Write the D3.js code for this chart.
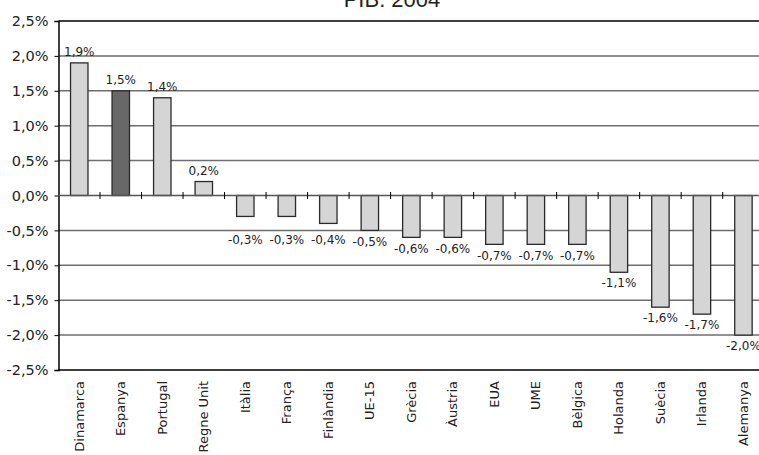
<!DOCTYPE html>
<html>
<head>
<meta charset="utf-8">
<script src="https://cdn.jsdelivr.net/npm/d3@7"></script>
<style>
  body { margin: 0; background: #fff; }
  svg { display: block; overflow: hidden; }
  text { font-family: "DejaVu Sans", sans-serif; fill: #222; }
</style>
</head>
<body>
<div id="chart"></div>
<script>
// PIB 2004 - creixement per països
const countries = ["Dinamarca", "Espanya", "Portugal", "Regne Unit", "Itàlia", "França",
  "Finlàndia", "UE-15", "Grècia", "Àustria", "EUA", "UME", "Bèlgica", "Holanda",
  "Suècia", "Irlanda", "Alemanya"];
const growth = [1.9, 1.5, 1.4, 0.2, -0.3, -0.3, -0.4, -0.5, -0.6, -0.6, -0.7, -0.7, -0.7,
  -1.1, -1.6, -1.7, -2.0];
const yTicks = [-2.5, -2.0, -1.5, -1.0, -0.5, 0, 0.5, 1.0, 1.5, 2.0, 2.5];
const highlight = "Espanya";

const width = 759;
const height = 455;
const plotLeft = 58.5;
const plotRight = 764.2; // plot runs slightly past the visible edge
const plotTop = 21;
const plotBottom = 370;

const fmt = (v) => v.toFixed(1).replace(".", ",") + "%";

const svg = d3.select("#chart").append("svg")
  .attr("width", width)
  .attr("height", height);

const x = d3.scaleBand().domain(countries).range([plotLeft, plotRight]).padding(0);
const y = d3.scaleLinear().domain([-2.5, 2.5]).range([plotBottom, plotTop]);

// title
svg.append("text")
  .attr("x", 392)
  .attr("y", 7)
  .attr("text-anchor", "middle")
  .style("font-family", "'Liberation Sans', Arial, sans-serif")
  .style("font-size", "22px")
  .text("PIB. 2004");

// gridlines
svg.append("g")
  .selectAll("line")
  .data(yTicks.filter((d) => d !== -2.5 && d !== 2.5 && d !== 0))
  .join("line")
  .attr("x1", plotLeft)
  .attr("x2", width)
  .attr("y1", (d) => y(d))
  .attr("y2", (d) => y(d))
  .attr("stroke", "#6e6e6e")
  .attr("stroke-width", 1.5);

// top & bottom border
svg.append("g")
  .selectAll("line")
  .data([2.5, -2.5])
  .join("line")
  .attr("x1", plotLeft)
  .attr("x2", width)
  .attr("y1", (d) => y(d))
  .attr("y2", (d) => y(d))
  .attr("stroke", "#000")
  .attr("stroke-width", 1.5);

// y axis
const yAxis = svg.append("g")
  .attr("transform", `translate(${plotLeft},0)`)
  .call(d3.axisLeft(y).tickValues(yTicks).tickFormat(fmt).tickSize(4).tickPadding(6));
yAxis.select(".domain").attr("stroke", "#000").attr("stroke-width", 1.5);
yAxis.selectAll(".tick line").attr("stroke", "#000");
yAxis.selectAll(".tick text")
  .style("font-size", "14.5px")
  .style("font-family", "'DejaVu Sans', sans-serif")
  .attr("fill", "#222");

// bars
const barW = x.bandwidth() * 0.42;
svg.append("g")
  .selectAll("rect")
  .data(countries)
  .join("rect")
  .attr("x", (d) => x(d) + (x.bandwidth() - barW) / 2)
  .attr("y", (d, i) => y(Math.max(0, growth[i])))
  .attr("width", barW)
  .attr("height", (d, i) => Math.abs(y(growth[i]) - y(0)))
  .attr("fill", (d) => (d === highlight ? "#686868" : "#d5d5d5"))
  .attr("stroke", "#2a2a2a")
  .attr("stroke-width", 1.3);

// zero line with category ticks
svg.append("line")
  .attr("x1", plotLeft)
  .attr("x2", width)
  .attr("y1", y(0))
  .attr("y2", y(0))
  .attr("stroke", "#555")
  .attr("stroke-width", 1.5);

svg.append("g")
  .selectAll("line")
  .data(countries.slice(1))
  .join("line")
  .attr("x1", (d) => x(d))
  .attr("x2", (d) => x(d))
  .attr("y1", y(0) - 3.5)
  .attr("y2", y(0) + 3.5)
  .attr("stroke", "#000")
  .attr("stroke-width", 1);

// value labels
svg.append("g")
  .selectAll("text")
  .data(countries)
  .join("text")
  .attr("x", (d) => x(d) + x.bandwidth() / 2)
  .attr("y", (d, i) => {
    const v = growth[i];
    return v >= 0 ? y(v) - 11 : Math.max(y(v) + 11, y(0) + 44);
  })
  .attr("dy", "0.35em")
  .attr("text-anchor", "middle")
  .style("font-size", "12px")
  .text((d, i) => fmt(growth[i]));

// category labels
svg.append("g")
  .selectAll("text")
  .data(countries)
  .join("text")
  .attr("transform", (d) => `translate(${x(d) + x.bandwidth() / 2},381) rotate(-90)`)
  .attr("dy", "0.35em")
  .attr("text-anchor", "end")
  .style("font-size", "13px")
  .text((d) => d);
</script>
</body>
</html>
